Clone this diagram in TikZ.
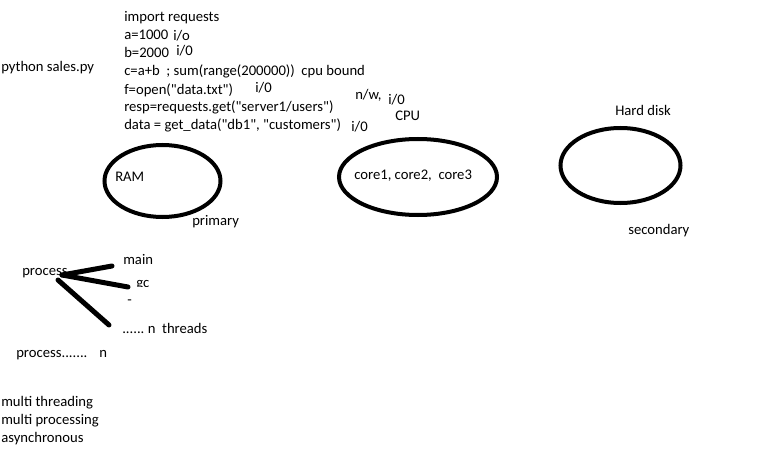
\documentclass[tikz,border=0pt]{standalone}
\usepackage{fontspec}
\setmainfont{Carlito}[Ligatures=TeXOff]
\usetikzlibrary{shapes.geometric}

\begin{document}
\begin{tikzpicture}[x=0.75pt, y=-0.75pt,
lbl/.style={anchor=base west, inner sep=0pt, font=\fontsize{11pt}{13.5pt}\selectfont},
memory/.style={ellipse, draw, line width=3pt, inner sep=0pt},
spoke/.style={line width=3.75pt, line cap=round},
    ]
  \useasboundingbox (0,0) rectangle (768,460);

  %% the script
  \node[lbl] (run) at (1,72) {python sales.py};
  \foreach \txt [count=\i] in {import requests, a=1000, b=2000,
      {c=a+b\ \ ; sum(range(200000))\ \ cpu bound}, f=open("data.txt"),
      resp=requests.get("server1/users"), {data = get\_data("db1", "customers")}}
    \node[lbl] (line\i) at (124,{4+18*\i}) {\txt};
  \node[lbl] (ioa) at (173,41) {i/o};
  \node[lbl] (iob) at (176,56) {i/0};
  \node[lbl] (iof) at (255,93) {i/0};
  \node[lbl] (nw) at (355,99) {n/w,};
  \node[lbl] (ionw) at (388,104) {i/0};
  \node[lbl] (iodata) at (351,132) {i/0};

  %% hardware
  \node[memory, minimum width=87pt, minimum height=54pt] (ram) at (162.5,181) {};
  \node[memory, minimum width=118.5pt, minimum height=57pt] (cpu) at (418,177) {};
  \node[memory, minimum width=90pt, minimum height=56.25pt] (disk) at (620.5,165.5) {};
  \node[lbl] (ramlbl) at (115,181) {RAM};
  \node[lbl] (primary) at (192,225) {primary};
  \node[lbl] (cpulbl) at (395,121) {CPU};
  \node[lbl] (cores) at (354,179) {core1, core2,\ \ core3};
  \node[lbl] (disklbl) at (615,116) {Hard disk};
  \node[lbl] (secondary) at (628,234) {secondary};

  %% process and threads
  \node[lbl] (process) at (22,275) {process};
  \node[lbl] (main) at (123,264) {main};
  \begin{scope}
    \clip (130,270) rectangle (160,286.5);
    \node[lbl] (gc) at (136,287.5) {gc};
  \end{scope}
  \node[lbl] (dash) at (127,304) {-};
  \node[lbl] (threads) at (122,333) {......\ n\ \ threads};
  \coordinate (hub) at (62,275);
  \coordinate (hubb) at (58,280);
  \coordinate (mainend) at (112,266);
  \coordinate (gcend) at (128,287);
  \coordinate (threadend) at (109,325);
  \draw[spoke] (hub) -- (mainend);
  \draw[spoke] (hub) -- (gcend);
  \draw[spoke] (hubb) -- (threadend);
  \node[lbl] (processes) at (16,357) {process.......\hspace{9pt}n};

  %% ways to run things together
  \node[lbl] (mt) at (1,406) {multi threading};
  \node[lbl] (mp) at (1,424) {multi processing};
  \node[lbl] (async) at (1,442) {asynchronous};
\end{tikzpicture}
\end{document}
